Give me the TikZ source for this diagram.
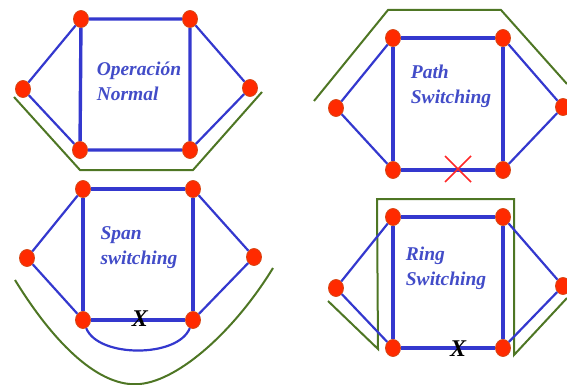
\documentclass[tikz,border=0pt]{standalone}
\usepackage{fontspec}
\setmainfont{Liberation Serif}
\usetikzlibrary{shapes.geometric}

\definecolor{edgeblue}{RGB}{52,56,206}
\definecolor{lblblue}{RGB}{66,76,200}
\definecolor{nodered}{RGB}{255,42,0}
\definecolor{noderim}{RGB}{214,70,20}
\definecolor{protgreen}{RGB}{78,118,36}
\definecolor{cutred}{RGB}{255,40,40}

\begin{document}
\begin{tikzpicture}[x=1pt,y=-1pt,
      nd/.style={ellipse,fill=nodered,draw=noderim,line width=0.8pt,
        minimum width=15pt,minimum height=17pt,inner sep=0pt},
      sq/.style={edgeblue,line width=3.4pt},
      dg/.style={edgeblue,line width=2.2pt},
      prot/.style={protgreen,line width=2pt},
      lbl/.style={text=lblblue,align=left,
        font=\fontsize{19.5}{25}\selectfont\bfseries\itshape},
      cut/.style={font=\fontsize{24}{24}\selectfont\bfseries\itshape}
    ]
      \useasboundingbox (0,0) rectangle (567,385);

      % Operacion normal
      \draw[prot] (14,97) -- (80,170) -- (193,170) -- (262,92);
      \node[nd] (ntl) at (81,19) {};
      \node[nd] (ntr) at (190,19) {};
      \node[nd] (nl) at (23,89) {};
      \node[nd] (nr) at (250,88) {};
      \node[nd] (nbl) at (80,150) {};
      \node[nd] (nbr) at (190,150) {};
      \node[lbl] (ntxt) at (139,81) {Operación\\Normal};

      % Path switching
      \draw[prot] (314,101) -- (388,10) -- (501,10) -- (567,84);
      \node[nd] (ptl) at (393,38) {};
      \node[nd] (ptr) at (503,38) {};
      \node[nd] (pl) at (336,108) {};
      \node[nd] (pr) at (563,107) {};
      \node[nd] (pbl) at (393,170) {};
      \node[nd] (pbr) at (503,170) {};
      \node[lbl] (ptxt) at (451,86) {Path\\Switching};

      % Span switching
      \draw[prot] (15,280) .. controls (55,345) and (100,388) .. (140,384)
        .. controls (180,380) and (235,330) .. (273,268);
      \node[nd] (stl) at (83,189) {};
      \node[nd] (str) at (193,189) {};
      \node[nd] (sl) at (27,258) {};
      \node[nd] (sr) at (254,257) {};
      \node[nd] (sbl) at (83,320) {};
      \node[nd] (sbr) at (193,320) {};
      \node[lbl] (stxt) at (139,248) {Span\\switching};

      % Ring switching
      \draw[prot] (328,301) -- (378,349) -- (377,199) -- (514,199) -- (514,355) -- (567,298);
      \node[nd] (rtl) at (393,217) {};
      \node[nd] (rtr) at (503,217) {};
      \node[nd] (rl) at (336,288) {};
      \node[nd] (rr) at (563,286) {};
      \node[nd] (rbl) at (393,348) {};
      \node[nd] (rbr) at (503,348) {};
      \node[lbl] (rtxt) at (446,268) {Ring\\Switching};

      \foreach \p in {n,p,s,r} {
        \draw[sq] (\p tl) -- (\p tr) -- (\p br) -- (\p bl) -- (\p tl);
        \draw[dg] (\p tl) -- (\p l) -- (\p bl);
        \draw[dg] (\p tr) -- (\p r) -- (\p br);
      }
      \draw[dg] (sbl) .. controls (98,358) and (178,358) .. (sbr);

      % failures
      \draw[cutred,line width=1.6pt] (445,156) -- (471,182) (445,182) -- (471,156);
      \node[cut] (sx) at (140,319) {X};
      \node[cut] (rx) at (458,349) {X};
    \end{tikzpicture}
\end{document}
